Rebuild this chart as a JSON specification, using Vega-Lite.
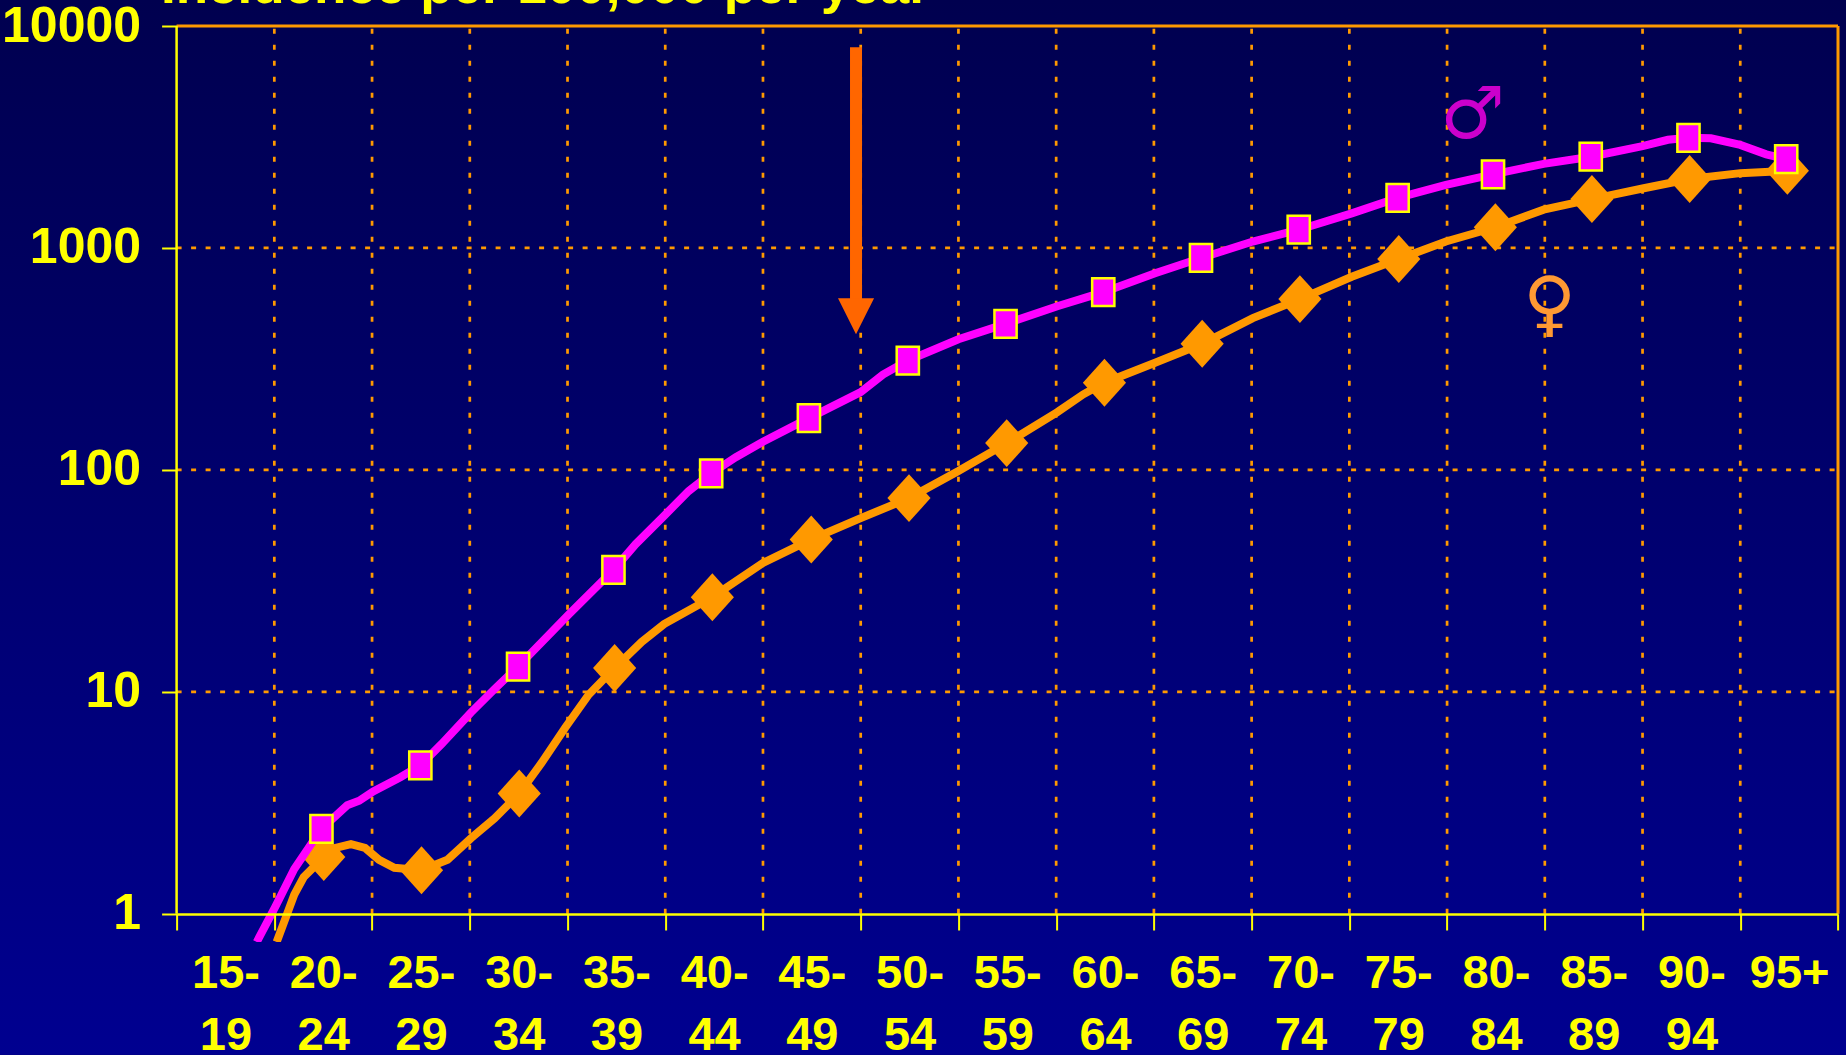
{"$schema":"https://vega.github.io/schema/vega-lite/v6.json","width":1661.4,"height":916,"autosize":{"type":"none"},"padding":{"left":176.6,"top":26,"right":8,"bottom":113},
"background":"#000070",
"datasets":{
"grid":[{"age":20,"value":1,"top":10000},{"age":25,"value":1,"top":10000},{"age":30,"value":1,"top":10000},{"age":35,"value":1,"top":10000},{"age":40,"value":1,"top":10000},{"age":45,"value":1,"top":10000},{"age":50,"value":1,"top":10000},{"age":55,"value":1,"top":10000},{"age":60,"value":1,"top":10000},{"age":65,"value":1,"top":10000},{"age":70,"value":1,"top":10000},{"age":75,"value":1,"top":10000},{"age":80,"value":1,"top":10000},{"age":85,"value":1,"top":10000},{"age":90,"value":1,"top":10000},{"age":95,"value":1,"top":10000}],
"hgrid":[{"age":15,"end":100,"value":10},{"age":15,"end":100,"value":100},{"age":15,"end":100,"value":1000}],
"male":[{"age":19.1,"value":0.746},{"age":20.06,"value":1.08},{"age":21.02,"value":1.59},{"age":22.41,"value":2.41,"m":1},{"age":23.73,"value":3.08},{"age":24.34,"value":3.23},{"age":25.06,"value":3.56},{"age":26.45,"value":4.12},{"age":27.47,"value":4.66,"m":1},{"age":28.55,"value":5.81},{"age":30.06,"value":8.07},{"age":31.27,"value":10.3},{"age":32.47,"value":13,"m":1},{"age":35.06,"value":22.3},{"age":37.35,"value":35.4,"m":1},{"age":38.49,"value":46.3},{"age":39.94,"value":62.1},{"age":41.2,"value":80.3},{"age":42.35,"value":96.4,"m":1},{"age":43.61,"value":114},{"age":45,"value":134},{"age":47.35,"value":171,"m":1},{"age":50,"value":224},{"age":51.14,"value":269},{"age":52.41,"value":311,"m":1},{"age":55,"value":388},{"age":57.41,"value":455,"m":1},{"age":60.06,"value":546},{"age":62.41,"value":632,"m":1},{"age":65.06,"value":769},{"age":67.41,"value":901,"m":1},{"age":70.06,"value":1069},{"age":72.41,"value":1208,"m":1},{"age":75.12,"value":1432},{"age":77.47,"value":1680,"m":1},{"age":79.94,"value":1923},{"age":82.35,"value":2147,"m":1},{"age":84.94,"value":2393},{"age":87.35,"value":2577,"m":1},{"age":90,"value":2877},{"age":91.3,"value":3070},{"age":92.35,"value":3133,"m":1},{"age":93.5,"value":3120},{"age":95,"value":2911},{"age":96.33,"value":2642},{"age":97.35,"value":2515,"m":1}],
"female":[{"age":20.12,"value":0.746},{"age":21.02,"value":1.22},{"age":21.5,"value":1.46},{"age":22.53,"value":1.8,"m":1},{"age":23.13,"value":1.98},{"age":23.92,"value":2.06},{"age":24.64,"value":1.98},{"age":25.36,"value":1.75},{"age":26.14,"value":1.61},{"age":27.53,"value":1.57,"m":1},{"age":28.86,"value":1.75},{"age":30.06,"value":2.19},{"age":31.27,"value":2.69},{"age":32.53,"value":3.48,"m":1},{"age":33.67,"value":4.78},{"age":34.88,"value":6.89},{"age":36.08,"value":9.7},{"age":37.41,"value":12.8,"m":1},{"age":38.8,"value":16.8},{"age":39.94,"value":20.2},{"age":42.41,"value":26.7,"m":1},{"age":45,"value":38.1},{"age":47.47,"value":48.6,"m":1},{"age":50,"value":60.6},{"age":52.47,"value":74.6,"m":1},{"age":55,"value":98.8},{"age":57.47,"value":132,"m":1},{"age":60.06,"value":182},{"age":61.39,"value":219},{"age":62.47,"value":247,"m":1},{"age":65.06,"value":304},{"age":67.47,"value":370,"m":1},{"age":70.06,"value":483},{"age":72.47,"value":588,"m":1},{"age":75.12,"value":741},{"age":77.53,"value":891,"m":1},{"age":79.94,"value":1069},{"age":82.47,"value":1239,"m":1},{"age":84.94,"value":1487},{"age":87.41,"value":1660,"m":1},{"age":90,"value":1853},{"age":92.41,"value":2043,"m":1},{"age":95,"value":2173},{"age":97.41,"value":2225,"m":1}]
},
"encoding":{"x":{"field":"age","type":"quantitative","title":null,"scale":{"domain":[15,100],"nice":false,"zero":false},
"axis":{"zindex":1,"values":[15,17.5,20,22.5,25,27.5,30,32.5,35,37.5,40,42.5,45,47.5,50,52.5,55,57.5,60,62.5,65,67.5,70,72.5,75,77.5,80,82.5,85,87.5,90,92.5,95,97.5,100],"offset":-28,"grid":false,"domainColor":"#FFFF00","domainWidth":2.5,"tickColor":"#FFFF00","tickWidth":2,"tickSize":16,"tickOpacity":{"condition":{"test":"datum.value%5==0","value":1},"value":0},"labelColor":"#FFFF00","labelFont":"Liberation Sans","labelFontWeight":"bold","labelFontSize":47,"labelLineHeight":62,"labelPadding":20,"labelBaseline":"top","labelAlign":"center","labelFlush":false,"labelOverlap":false,"labelBound":false,"labelAngle":0,"labelExpr":"datum.value%5==0?'':(datum.value==97.5?'95+':[(datum.value-2.5)+'-',''+(datum.value+1.5)])"}},
"y":{"field":"value","type":"quantitative","title":null,"scale":{"type":"log","domain":[0.746,10000],"nice":false,"zero":false},
"axis":{"zindex":1,"values":[1,10,100,1000,10000],"format":"d","domain":false,"grid":false,"tickColor":"#FFFF00","tickWidth":2,"tickSize":15,"labelColor":"#FFFF00","labelFont":"Liberation Sans","labelFontWeight":"bold","labelFontSize":50,"labelPadding":21,"labelBound":false,"labelFlush":false,"labelOverlap":false}}},
"layer":[
{"data":{"values":[{"age":5.9,"end":100.5,"value":0.2318,"top":13100}]},"mark":{"type":"rect","clip":false,"fill":{"gradient":"linear","x1":0,"y1":0,"x2":0,"y2":1,"stops":[{"offset":0,"color":"#00004f"},{"offset":1,"color":"#000090"}]}},"encoding":{"x2":{"field":"end"},"y2":{"field":"top"}}},
{"data":{"values":[{"age":14.2,"value":12730,"label":"Incidence per 100,000 per year"}]},"mark":{"type":"text","align":"left","baseline":"alphabetic","font":"Liberation Sans","fontWeight":"bold","fontSize":53,"color":"#FFFF00"},"encoding":{"text":{"field":"label"}}},
{"data":{"name":"hgrid"},"mark":{"type":"rule","color":"#FF9900","strokeWidth":2.7,"strokeDash":[5,9.5]},"encoding":{"x2":{"field":"end"}}},
{"data":{"values":[{"age":15,"end":100,"value":10000}]},"mark":{"type":"rule","color":"#FF9900","strokeWidth":3},"encoding":{"x2":{"field":"end"}}},
{"data":{"name":"grid"},"mark":{"type":"rule","color":"#FF9900","strokeWidth":2.7,"strokeDash":[5,11]},"encoding":{"y2":{"field":"top"}}},
{"data":{"values":[{"age":100,"value":1,"top":10000}]},"mark":{"type":"rule","color":"#FF9900","strokeWidth":3},"encoding":{"y2":{"field":"top"}}},
{"data":{"values":[{"age":15,"value":1,"top":10000}]},"mark":{"type":"rule","color":"#FFFF00","strokeWidth":2.5},"encoding":{"y2":{"field":"top"}}},
{"data":{"values":[{"age":49.76,"value":588,"top":8030}]},"mark":{"type":"rule","color":"#FF6600","strokeWidth":12},"encoding":{"y2":{"field":"top"}}},
{"data":{"values":[{"age":49.76,"value":492}]},"mark":{"type":"point","filled":true,"color":"#FF6600","opacity":1,"shape":"M-1,-1L1,-1L0,1Z","size":1300}},
{"data":{"values":[{"age":81.3,"value":3950,"label":"♂"}]},"mark":{"type":"text","font":"DejaVu Sans","fontSize":72,"color":"#CC00CC","align":"center","baseline":"middle"},"encoding":{"text":{"field":"label"}}},
{"data":{"values":[{"age":85.24,"value":550,"label":"♀"}]},"mark":{"type":"text","font":"DejaVu Sans","fontSize":72,"color":"#FF9933","align":"center","baseline":"middle"},"encoding":{"text":{"field":"label"}}},
{"data":{"name":"female"},"mark":{"type":"line","color":"#FF9900","strokeWidth":8,"clip":true}},
{"data":{"name":"female"},"transform":[{"filter":"datum.m==1"}],"mark":{"type":"point","filled":true,"color":"#FF9900","opacity":1,"shape":"M-0.9,0L0,-1L0.9,0L0,1Z","size":2300}},
{"data":{"name":"male"},"mark":{"type":"line","color":"#FF00FF","strokeWidth":8,"clip":true}},
{"data":{"name":"male"},"transform":[{"filter":"datum.m==1"}],"mark":{"type":"point","filled":true,"fill":"#FF00FF","stroke":"#FFFF00","strokeWidth":2.5,"opacity":1,"shape":"M-0.8,-1L0.8,-1L0.8,1L-0.8,1Z","size":770}}
],
"config":{"view":{"stroke":null}}}
